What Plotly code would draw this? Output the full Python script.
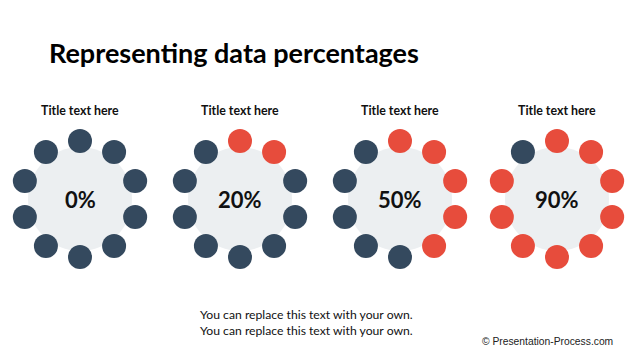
import math
import plotly.graph_objects as go

titles = ["Title text here", "Title text here", "Title text here", "Title text here"]
percent_values = [0, 20, 50, 90]
dot_count = 10
main_title = "Representing data percentages"
body_lines = ["You can replace this text with your own.", "You can replace this text with your own."]
credit = "© Presentation-Process.com"

DARK = "#34495e"
RED = "#e74c3c"
GRAY = "#eceff1"

centers_x = [80, 240, 400, 557]
center_y = 199
ring_r = 58

fig = go.Figure()

for i, pct in enumerate(percent_values):
    cx = centers_x[i]
    fig.add_trace(go.Scatter(x=[cx], y=[center_y], mode="markers",
                             marker=dict(size=104, color=GRAY, line=dict(width=0)),
                             hoverinfo="skip", showlegend=False))
    n_red = round(pct / 100 * dot_count)
    xs, ys, cols = [], [], []
    for k in range(dot_count):
        ang = math.radians(90 - 36 * k)
        xs.append(cx + ring_r * math.cos(ang))
        ys.append(center_y - ring_r * math.sin(ang))
        cols.append(RED if k < n_red else DARK)
    fig.add_trace(go.Scatter(x=xs, y=ys, mode="markers",
                             marker=dict(size=24, color=cols, line=dict(width=0)),
                             hoverinfo="skip", showlegend=False))
    fig.add_annotation(x=cx, y=center_y, text=f"<b>{pct}%</b>", showarrow=False,
                       font=dict(family="Lato", size=22, color="#111111"))
    fig.add_annotation(x=cx, y=110, text=f"<b>{titles[i]}</b>", showarrow=False,
                       font=dict(family="Lato", size=12.4, color="#111111"))

fig.add_annotation(x=47, y=52, text=f"<b>{main_title}</b>", showarrow=False, xanchor="left",
                   font=dict(family="Lato", size=27, color="#000000"))
fig.add_annotation(x=306, y=322, text="<br>".join(body_lines), showarrow=False,
                   font=dict(family="Lato", size=12.2, color="#111111"))
fig.add_annotation(x=615, y=341, text=credit, showarrow=False, xanchor="right",
                   font=dict(family="Liberation Sans", size=10.3, color="#222222"))

fig.update_layout(width=640, height=360, margin=dict(l=0, r=0, t=0, b=0),
                  paper_bgcolor="white", plot_bgcolor="white",
                  xaxis=dict(range=[0, 640], visible=False, fixedrange=True),
                  yaxis=dict(range=[360, 0], visible=False, fixedrange=True))
fig.write_html("out.html", config={"displayModeBar": False},
               post_script="document.body.style.margin='0';")
